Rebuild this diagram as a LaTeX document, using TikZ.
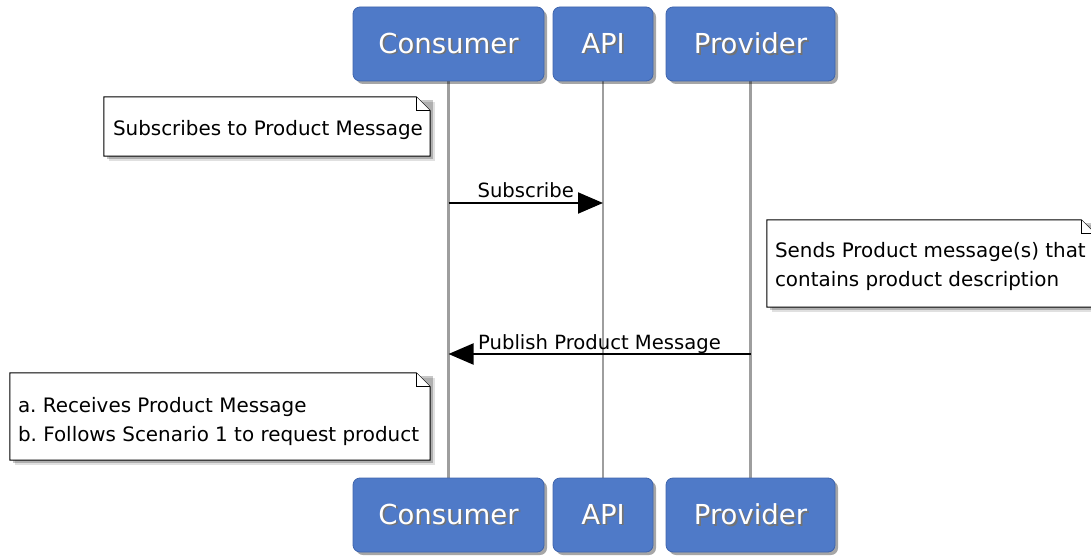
\documentclass[tikz,border=0pt]{standalone}
\usepackage{fontspec}
\setmainfont{DejaVu Sans}
\usetikzlibrary{arrows.meta,shadows,backgrounds}

\definecolor{partblue}{RGB}{79,122,200}
\definecolor{partedge}{RGB}{62,100,172}
\definecolor{lifegray}{RGB}{158,158,158}

% white participant title with a soft dark text shadow
\newcommand\ptitle[1]{\leavevmode\rlap{\hspace{1.8pt}\raisebox{-1.8pt}{\textcolor{black!55}{#1}}}\textcolor{white}{#1}}

% font used inside the notes: no hyphenation, single spaces after periods
\newcommand\notefont{\fontsize{19.9}{29}\selectfont\frenchspacing\hyphenpenalty=10000\relax}

% dog-eared note outline with shadow, drawn behind the note's text
\newcommand\notecard[2][14]{%
  \begin{scope}[on background layer]
    \fill[black,opacity=0.12] ([shift={(5,5)}]#2.north west) rectangle ([shift={(5,5)}]#2.south east);
    \fill[black,opacity=0.22] ([shift={(3,3)}]#2.north west) rectangle ([shift={(3,3)}]#2.south east);
    \draw[noteedge, fill=white]
      (#2.north west) -- ([shift={(-#1,0)}]#2.north east) -- ([shift={(0,#1)}]#2.north east)
      -- (#2.south east) -- (#2.south west) -- cycle;
    \draw[noteedge, fill=white]
      ([shift={(-#1,0)}]#2.north east) -- ([shift={(-#1,#1)}]#2.north east) -- ([shift={(0,#1)}]#2.north east);
  \end{scope}}

\tikzset{
  part/.style={rectangle, rounded corners=7pt, fill=partblue, draw=partedge, line width=0.8pt,
    minimum height=74pt, inner sep=0pt, font=\fontsize{27.5}{32}\selectfont,
    drop shadow={shadow xshift=3pt, shadow yshift=-3pt, fill=black, opacity=0.35}},
  lifeline/.style={draw=lifegray, line width=2.2pt},
  msg/.style={draw=black, line width=2pt, -{Triangle[length=25pt,width=21pt]}},
  msglabel/.style={anchor=base, inner sep=0pt, font=\fontsize{19.6}{24}\selectfont},
  notebox/.style={rectangle, inner sep=0pt},
  % anchored at the baseline of the text's last line
  notetext/.style={inner sep=0pt, align=left, anchor=base west, font=\notefont},
  noteedge/.style={draw=black, line width=1pt},
}

\begin{document}
\begin{tikzpicture}[x=1pt, y=-1pt]
  \useasboundingbox (0,0) rectangle (1091,556);

  % participants, top row
  \node[part, minimum width=191pt] (ct) at (448.5,44) {\ptitle{Consumer}};
  \node[part, minimum width=100pt] (at) at (603,44)   {\ptitle{API}};
  \node[part, minimum width=169pt] (pt) at (750.5,44) {\ptitle{Provider}};
  % participants, bottom row
  \node[part, minimum width=191pt] (cb) at (448.5,515) {\ptitle{Consumer}};
  \node[part, minimum width=100pt] (ab) at (603,515)   {\ptitle{API}};
  \node[part, minimum width=169pt] (pb) at (750.5,515) {\ptitle{Provider}};

  % lifelines
  \begin{scope}[on background layer]
    \draw[lifeline] (ct) -- (cb);
    \draw[lifeline] (at) -- (ab);
    \draw[lifeline] (pt) -- (pb);
  \end{scope}

  % message end points on the lifelines
  \coordinate (subL) at (448.5,203);
  \coordinate (subR) at (603,203);
  \coordinate (pubR) at (750.5,354);
  \coordinate (pubL) at (448.5,354);

  % messages
  \draw[msg] (subL) -- (subR) node[msglabel, pos=0.5, yshift=6pt] {Subscribe};
  \draw[msg] (pubR) -- (pubL) node[msglabel, pos=0.5, yshift=4.5pt] {Publish Product Message};

  % notes: outline boxes, then their text
  \node[notebox, minimum width=326pt, minimum height=59pt] (n1) at (267,126.5) {};
  \notecard{n1}
  \node[notetext] (n1t) at ([shift={(9,39)}]n1.north west) {Subscribes to Product Message};

  \node[notebox, minimum width=328pt, minimum height=87pt] (n2) at (931,263.5) {};
  \notecard{n2}
  \node[notetext] (n2t) at ([shift={(8,67)}]n2.north west)
    {Sends Product message(s) that\\contains product description};

  \node[notebox, minimum width=420pt, minimum height=87pt] (n3) at (220,416.5) {};
  \notecard{n3}
  \node[notetext] (n3t) at ([shift={(8,69)}]n3.north west)
    {a. Receives Product Message\\b. Follows Scenario 1 to request product};
\end{tikzpicture}
\end{document}
